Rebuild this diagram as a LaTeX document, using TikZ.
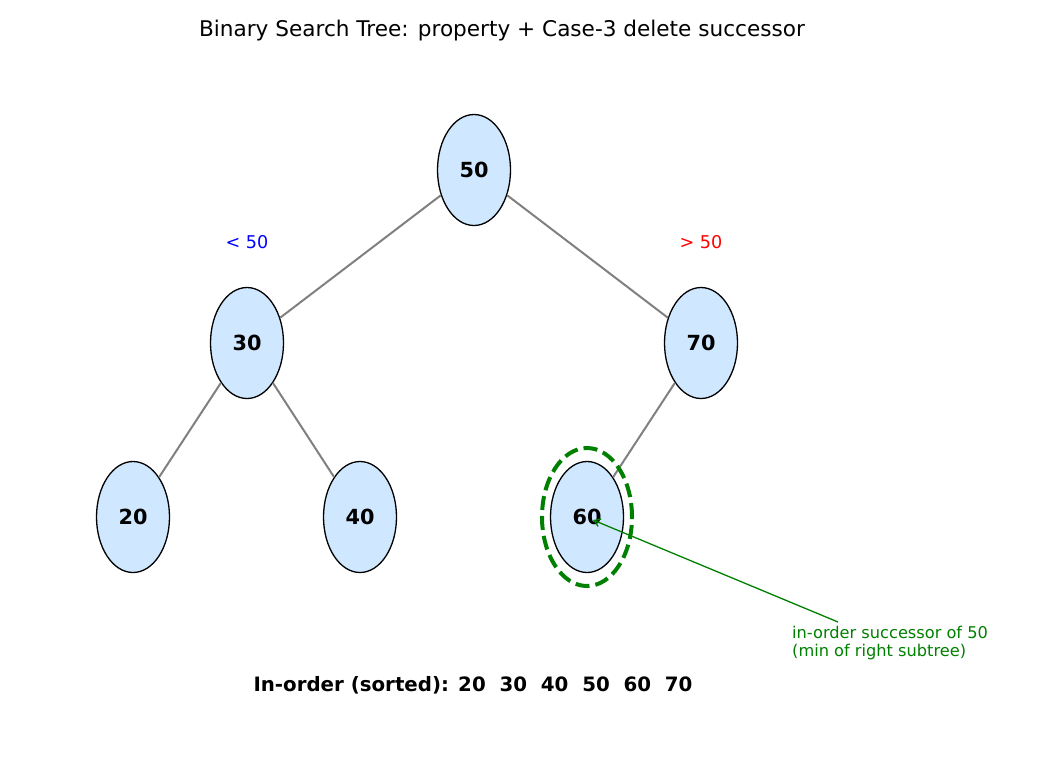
\documentclass[tikz,border=0pt]{standalone}
\usepackage{fontspec}
\setmainfont{DejaVu Sans}
\usetikzlibrary{shapes.geometric,arrows.meta}
\definecolor{nodefill}{HTML}{D0E8FF}
\definecolor{mgreen}{HTML}{008000}
\begin{document}
\begin{tikzpicture}[x=1pt,y=-1pt,
  bst/.style={ellipse,draw=black,line width=1.3pt,fill=nodefill,minimum width=73pt,minimum height=111pt,inner sep=0pt,font=\fontsize{20.8}{24}\selectfont\bfseries},
  edge/.style={draw=gray,line width=2pt},
  side/.style={font=\fontsize{17.6}{20}\selectfont}]
\useasboundingbox (0,0) rectangle (1040,780);
\node[font=\fontsize{21.6}{26}\selectfont] (title) at (502,31) {Binary Search Tree: property + Case-3 delete successor};
\node[bst] (n50) at (474,170) {50};
\node[bst] (n30) at (247,343) {30};
\node[bst] (n70) at (701,343) {70};
\node[bst] (n20) at (133,517) {20};
\node[bst] (n40) at (360,517) {40};
\node[bst] (n60) at (587,517) {60};
\draw[edge] (n50) -- (n30);
\draw[edge] (n50) -- (n70);
\draw[edge] (n30) -- (n20);
\draw[edge] (n30) -- (n40);
\draw[edge] (n70) -- (n60);
\node[ellipse,draw=mgreen,line width=4pt,dash pattern=on 14pt off 6pt,minimum width=90pt,minimum height=138pt] (hl) at (587,517) {};
\node[side,text=blue] (lt) at (247,242) {< 50};
\node[side,text=red] (gt) at (701,242) {> 50};
\node[font=\fontsize{16.2}{17.5}\selectfont,text=mgreen,align=left,anchor=north west,inner sep=0pt] (ann) at (792,626) {in-order successor of 50\\(min of right subtree)};
\coordinate (tip) at (593,520);
\draw[mgreen,line width=1.3pt,-{Straight Barb[length=6pt,width=8pt]}] (838,622) -- (tip);
\node[font=\fontsize{19.8}{24}\selectfont\bfseries] (inorder) at (473,685) {In-order (sorted): 20\ \ 30\ \ 40\ \ 50\ \ 60\ \ 70};
\end{tikzpicture}
\end{document}
